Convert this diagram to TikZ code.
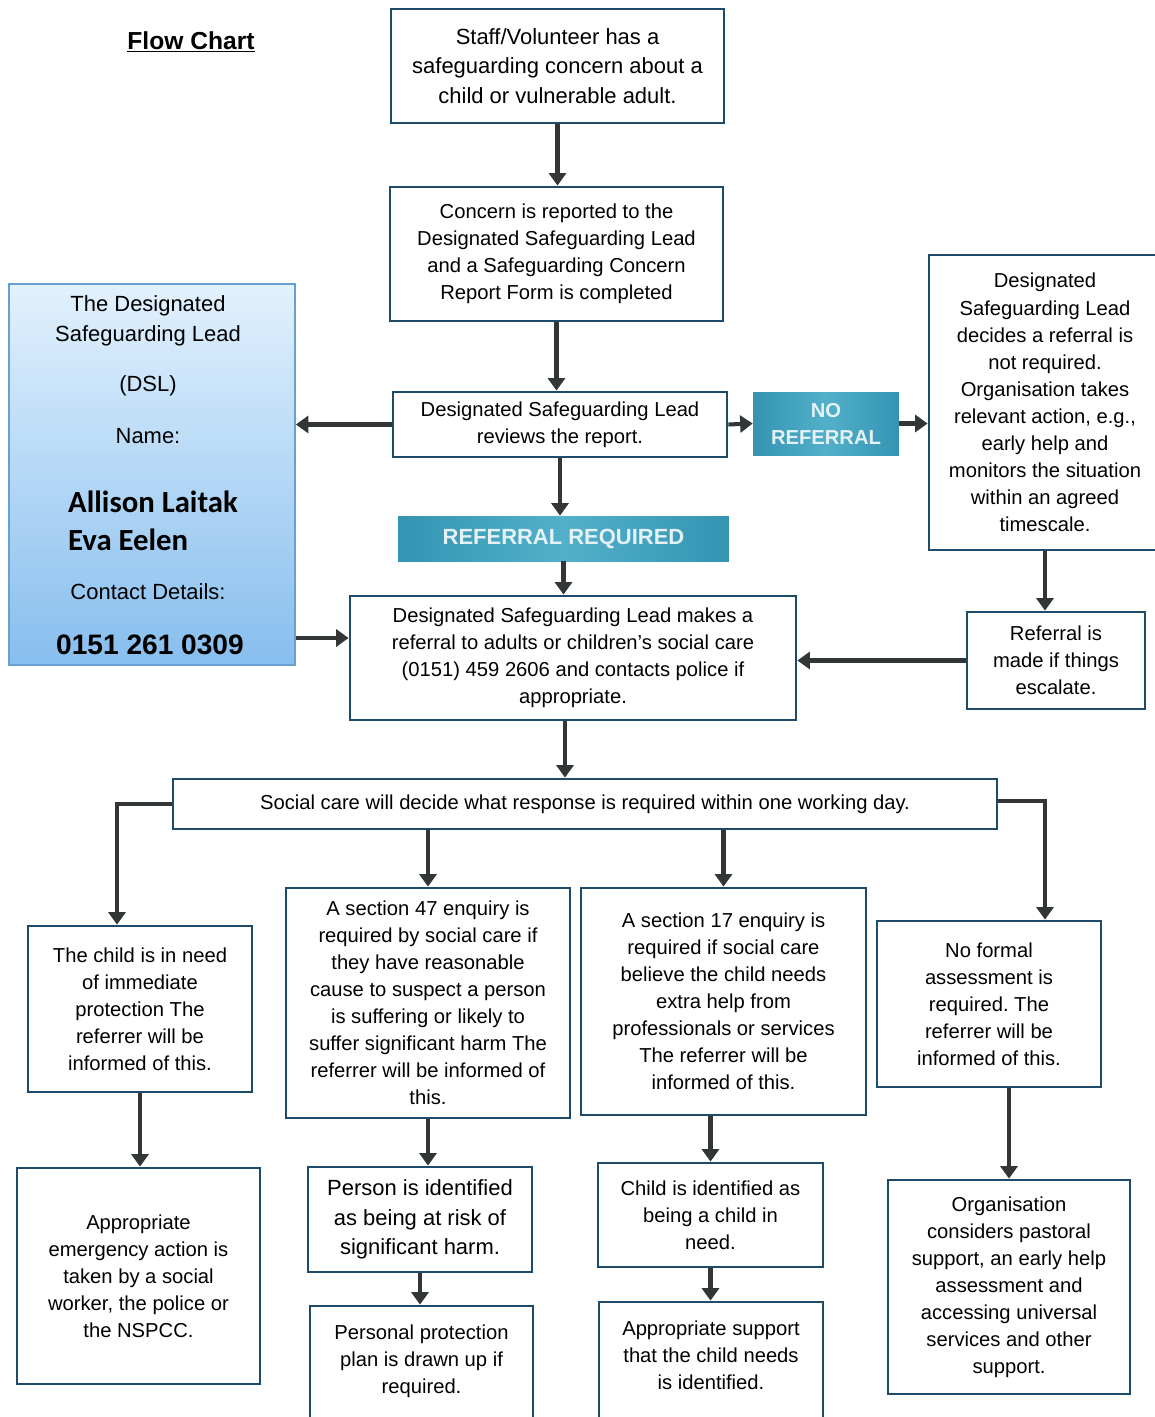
\documentclass[tikz,border=0pt]{standalone}
\usepackage{fontspec}
\setmainfont{Liberation Sans}
\newfontfamily\namefont{Carlito}
\usepackage{tikz}
\usetikzlibrary{arrows.meta}
\frenchspacing
\definecolor{boxblue}{RGB}{30,75,105}
\definecolor{arrowgrey}{RGB}{50,54,54}
\definecolor{tealdark}{RGB}{52,148,178}
\definecolor{teallight}{RGB}{82,176,202}
\definecolor{tealtext}{RGB}{228,242,246}
\definecolor{dsltop}{RGB}{226,241,253}
\definecolor{dslbottom}{RGB}{135,190,238}
\definecolor{dslborder}{RGB}{105,160,210}

\begin{document}
\begin{tikzpicture}[x=0.02cm, y=-0.02cm,
    box/.style={draw=boxblue, line width=1.6pt, align=center, inner sep=2pt,
      font=\fontsize{11.5}{15.4}\selectfont},
    bigbox/.style={box, font=\fontsize{12.5}{16.8}\selectfont},
    tag/.style={left color=tealdark, right color=tealdark, middle color=teallight,
      text=tealtext, align=center, inner sep=2pt},
    arr/.style={draw=arrowgrey, line width=2.3pt, -{Triangle[length=0.25cm,width=0.34cm]}},
    dsltext/.style={align=center, font=\fontsize{12.5}{17}\selectfont}]

  \clip (0,0) rectangle (1155,1417);

  \node (title) at (191,42) {\bfseries\fontsize{14}{17}\selectfont\underline{Flow Chart}};

  \node (concern) [bigbox, minimum width=6.66cm, minimum height=2.28cm] at (557.5,66)
    {Staff/Volunteer has a\\ safeguarding concern about a\\ child or vulnerable adult.};
  \node (reported) [box, minimum width=6.66cm, minimum height=2.68cm] at (556.5,254)
    {Concern is reported to the\\ Designated Safeguarding Lead\\ and a Safeguarding Concern\\ Report Form is completed};
  \node (reviews) [box, minimum width=6.68cm, minimum height=1.3cm] at (560,424.5)
    {Designated Safeguarding Lead\\ reviews the report.};
  \node (noreferral) [tag, minimum width=2.92cm, minimum height=1.26cm,
      font=\bfseries\fontsize{11.5}{15.4}\selectfont] at (826,423.5)
    {NO\\ REFERRAL};
  \node (notrequired) [box, minimum width=4.64cm, minimum height=5.9cm] at (1045,402.5)
    {Designated\\ Safeguarding Lead\\ decides a referral is\\ not required.\\ Organisation takes\\
     relevant action, e.g.,\\ early help and\\ monitors the situation\\ within an agreed\\ timescale.};

  \node (dsl) [draw=dslborder, line width=1pt, top color=dsltop, bottom color=dslbottom,
      minimum width=5.72cm, minimum height=7.62cm] at (152,474.5) {};
  \node (dsltitle) [dsltext] at (148,321) {The Designated\\ Safeguarding Lead};
  \node (dslabbr) [dsltext] at (148,386) {(DSL)};
  \node (dslname) [dsltext] at (148,436) {Name:};
  \node (dslpeople) [anchor=west, align=left,
      font=\namefont\bfseries\fontsize{17.5}{21.5}\selectfont] at (62,521)
    {Allison Laitak\\ Eva Eelen};
  \node (dslcontact) [dsltext] at (148,592) {Contact Details:};
  \node (dslphone) at (150,645) {\bfseries\fontsize{16}{19}\selectfont 0151 261 0309};

  \node (referralrequired) [tag, minimum width=6.62cm, minimum height=0.9cm,
      font=\bfseries\fontsize{12.5}{15}\selectfont] at (563.5,538.5)
    {REFERRAL REQUIRED};
  \node (makesreferral) [box, minimum width=8.92cm, minimum height=2.48cm] at (573,658)
    {Designated Safeguarding Lead makes a\\ referral to adults or children’s social care\\
     (0151) 459 2606 and contacts police if\\ appropriate.};
  \node (escalate) [box, minimum width=3.56cm, minimum height=1.94cm] at (1056,660.5)
    {Referral is\\ made if things\\ escalate.};
  \node (socialcare) [box, minimum width=16.48cm, minimum height=1cm] at (585,804)
    {Social care will decide what response is required within one working day.};

  \node (immediate) [box, minimum width=4.48cm, minimum height=3.32cm] at (140,1009)
    {The child is in need\\ of immediate\\ protection The\\ referrer will be\\ informed of this.};
  \node (section47) [box, minimum width=5.68cm, minimum height=4.6cm] at (428,1003)
    {A section 47 enquiry is\\ required by social care if\\ they have reasonable\\
     cause to suspect a person\\ is suffering or likely to\\ suffer significant harm The\\
     referrer will be informed of\\ this.};
  \node (section17) [box, minimum width=5.7cm, minimum height=4.54cm] at (723.5,1001.5)
    {A section 17 enquiry is\\ required if social care\\ believe the child needs\\
     extra help from\\ professionals or services\\ The referrer will be\\ informed of this.};
  \node (noformal) [box, minimum width=4.48cm, minimum height=3.32cm] at (989,1004)
    {No formal\\ assessment is\\ required. The\\ referrer will be\\ informed of this.};

  \node (emergency) [box, minimum width=4.86cm, minimum height=4.32cm] at (138.5,1276)
    {Appropriate\\ emergency action is\\ taken by a social\\ worker, the police or\\ the NSPCC.};
  \node (atrisk) [bigbox, minimum width=4.48cm, minimum height=2.1cm] at (420,1219.5)
    {Person is identified\\ as being at risk of\\ significant harm.};
  \node (childinneed) [box, minimum width=4.5cm, minimum height=2.08cm] at (710.5,1215)
    {Child is identified as\\ being a child in\\ need.};
  \node (pastoral) [box, minimum width=4.84cm, minimum height=4.28cm] at (1009,1287)
    {Organisation\\ considers pastoral\\ support, an early help\\ assessment and\\
     accessing universal\\ services and other\\ support.};

  \node (protectionplan) [box, minimum width=4.46cm, minimum height=2.68cm] at (421.5,1373)
    {Personal protection\\ plan is drawn up if\\ required.\\ ~};
  \node (support) [box, minimum width=4.48cm, minimum height=2.68cm] at (711,1369)
    {Appropriate support\\ that the child needs\\ is identified.\\ ~};

  \draw[arr] (concern.south) -- (concern.south |- reported.north);
  \draw[arr] (reported.south) -- (reported.south |- reviews.north);
  \draw[arr] (reviews.west) -- (reviews.west -| dsl.east);
  \draw[arr] (reviews.east) -- (noreferral.west);
  \draw[arr] (noreferral.east) -- (noreferral.east -| notrequired.west);
  \draw[arr] (reviews.south) -- (reviews.south |- referralrequired.north);
  \draw[arr] (referralrequired.south) -- (referralrequired.south |- makesreferral.north);
  \coordinate (dslout) at ([yshift=0.4cm]makesreferral.west);
  \draw[arr] (dslout -| dsl.east) -- (dslout);
  \draw[arr] (notrequired.south) -- (notrequired.south |- escalate.north);
  \draw[arr] (escalate.west) -- (escalate.west -| makesreferral.east);
  \coordinate (makesout) at ([xshift=-0.16cm]makesreferral.south);
  \draw[arr] (makesout) -- (makesout |- socialcare.north);

  \draw[arr] (socialcare.west) -| ([xshift=-0.46cm]immediate.north);
  \draw[arr] (section47.north |- socialcare.south) -- (section47.north);
  \draw[arr] (section17.north |- socialcare.south) -- (section17.north);
  \draw[arr] ([yshift=0.06cm]socialcare.east) -| ([xshift=1.12cm]noformal.north);

  \draw[arr] (immediate.south) -- (immediate.south |- emergency.north);
  \draw[arr] (section47.south) -- (section47.south |- atrisk.north);
  \draw[arr] (childinneed.north |- section17.south) -- (childinneed.north);
  \draw[arr] (pastoral.north |- noformal.south) -- (pastoral.north);
  \draw[arr] (atrisk.south) -- (atrisk.south |- protectionplan.north);
  \draw[arr] (childinneed.south) -- (childinneed.south |- support.north);
\end{tikzpicture}
\end{document}
